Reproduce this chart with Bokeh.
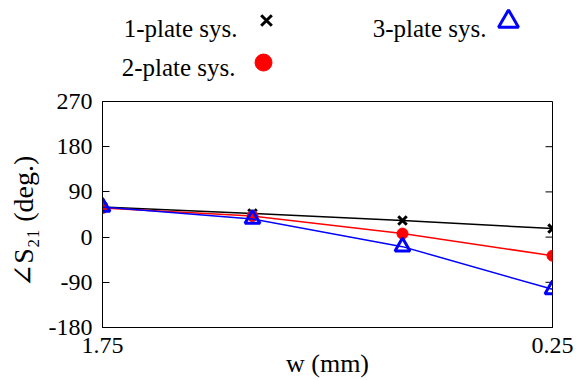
from bokeh.plotting import figure
from bokeh.models import Range1d, FixedTicker
from bokeh.layouts import column
from bokeh.core.properties import value
from bokeh.embed import file_html
from bokeh.resources import INLINE

# ---- data ----
w_mm = [1.75, 1.25, 0.75, 0.25]
phase_1plate = [60, 47, 33, 17]
phase_2plate = [58, 42, 7, -37]
phase_3plate = [60, 36, -19, -104]
series_names = ["1-plate sys.", "2-plate sys.", "3-plate sys."]
x_ticks = [1.75, 0.25]
y_ticks = [-180, -90, 0, 90, 180, 270]
y_tick_labels = {-180: "-180", -90: "-90", 0: "0", 90: "90", 180: "180", 270: "270"}

FONT = "Liberation Serif"
FONT_LBL = "'Liberation Serif', 'DejaVu Serif', serif"
colors = ["black", "red", "blue"]

W = 577
LEFT, RIGHT = 102, 25
LEG_H = 87
MAIN_H = 293

# ---- legend strip (labels left of markers, like the original) ----
leg = figure(width=W, height=LEG_H, x_range=Range1d(LEFT, W - RIGHT), y_range=Range1d(LEG_H, 0),
             x_axis_type=None, y_axis_type=None, output_backend="svg",
             toolbar_location=None, min_border=0, min_border_left=LEFT,
             min_border_right=RIGHT, outline_line_color=None)
leg.text(x=[237, 235, 486], y=[28, 67, 28], text=series_names,
         text_align="right", text_baseline="alphabetic",
         text_font=value(FONT), text_font_size="25px", text_color="black")
leg.scatter(x=[266], y=[20], marker="x", size=15, line_width=3, line_color=colors[0])
leg.scatter(x=[263], y=[62], marker="circle", size=17, line_color=colors[1], fill_color=colors[1])
leg.scatter(x=[508], y=[21], marker="triangle", size=20, line_width=3,
            line_color=colors[2], fill_alpha=0)

# ---- main plot ----
p = figure(width=W, height=MAIN_H, x_range=Range1d(1.75, 0.25), y_range=Range1d(-180, 270),
           output_backend="svg", toolbar_location=None,
           min_border_left=LEFT, min_border_right=RIGHT, min_border_top=14, min_border_bottom=53)
p.grid.visible = False
p.outline_line_color = "black"
p.outline_line_width = 1

for ax in p.xaxis:
    ax.ticker = FixedTicker(ticks=x_ticks)
    ax.axis_label = "w (mm)"
    ax.major_label_standoff = 10
    ax.axis_label_standoff = -7
for ax in p.yaxis:
    ax.ticker = FixedTicker(ticks=y_ticks)
    ax.major_label_overrides = y_tick_labels
    ax.axis_label = "∠S₂₁ (deg.)\u2002"
    ax.major_label_standoff = 10
    ax.axis_label_standoff = 7

for ax in list(p.xaxis) + list(p.yaxis):
    ax.major_tick_in = 7
    ax.major_tick_out = 0
    ax.minor_tick_line_color = None
    ax.axis_line_color = "black"
    ax.major_tick_line_color = "black"
    ax.major_label_text_font = FONT
    ax.major_label_text_font_size = "24px"
    ax.major_label_text_color = "black"
    ax.axis_label_text_font = FONT_LBL
    ax.axis_label_text_font_style = "normal"
    ax.axis_label_text_color = "black"
p.xaxis.axis_label_text_font_size = "26px"
p.yaxis.axis_label_text_font_size = "28px"

# mirrored inward ticks on the right edge
n = len(y_ticks)
p.segment(x0=[x_ticks[-1]] * n, x1=[x_ticks[-1] + 7 / 300] * n, y0=y_ticks, y1=y_ticks,
          line_color="black", line_width=1)

p.line(w_mm, phase_1plate, line_color=colors[0], line_width=1.5)
p.scatter(w_mm, phase_1plate, marker="x", size=12, line_width=3, line_color=colors[0])
p.line(w_mm, phase_2plate, line_color=colors[1], line_width=1.5)
p.scatter(w_mm, phase_2plate, marker="circle", size=11, line_color=colors[1], fill_color=colors[1])
p.line(w_mm, phase_3plate, line_color=colors[2], line_width=1.5)
p.scatter(w_mm, phase_3plate, marker="triangle", size=15, line_width=3,
          line_color=colors[2], fill_alpha=0)

layout = column(leg, p, spacing=0)
open("out.html", "w").write(file_html(layout, INLINE))
